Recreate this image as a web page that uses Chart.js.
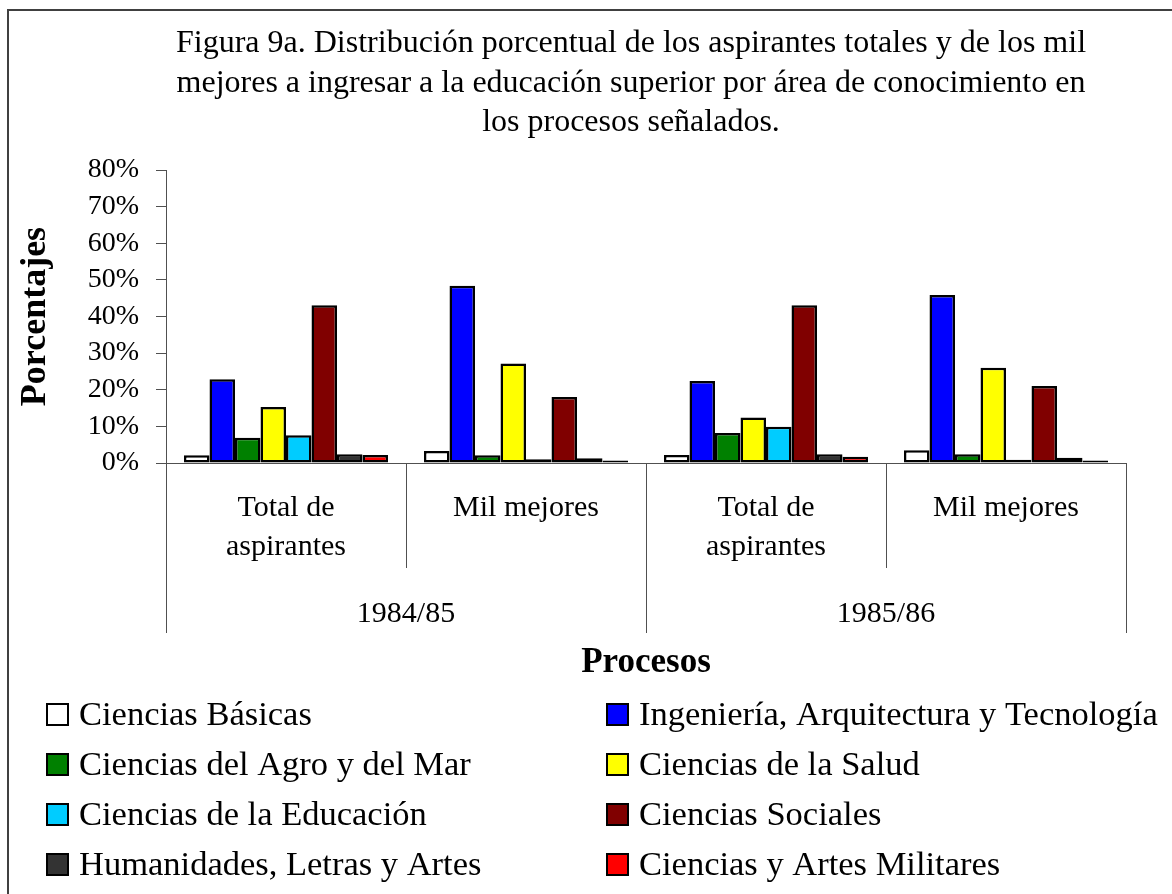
<!DOCTYPE html>
<html>
<head>
<meta charset="utf-8">
<script src="https://cdn.jsdelivr.net/npm/chart.js@4.4.1/dist/chart.umd.min.js"></script>
<style>
    html, body { margin: 0; padding: 0; background: #ffffff; }
    canvas { display: block; }
</style>
</head>
<body>
<canvas id="chart" width="1172" height="894"></canvas>
<script>
'use strict';

const titleLines = [
    'Figura 9a. Distribución porcentual de los aspirantes totales y de los mil',
    'mejores a ingresar a la educación superior por área de conocimiento en',
    'los procesos señalados.'
];
const groups = [['Total de', 'aspirantes'], ['Mil mejores'], ['Total de', 'aspirantes'], ['Mil mejores']];
const years = ['1984/85', '1985/86'];
const yTitle = 'Porcentajes';
const xTitle = 'Procesos';

const areas = [
    'Ciencias Básicas',
    'Ingeniería, Arquitectura y Tecnología',
    'Ciencias del Agro y del Mar',
    'Ciencias de la Salud',
    'Ciencias de la Educación',
    'Ciencias Sociales',
    'Humanidades, Letras y Artes',
    'Ciencias y Artes Militares'
];
const areaColors = ['#ffffff', '#0000ff', '#008000', '#ffff00', '#00ccff', '#800000', '#333333', '#ff0000'];

// porcentajes por grupo: total 84/85, mil 84/85, total 85/86, mil 85/86
const basicas = [2.1, 3.3, 2.2, 3.5];
const ingenieria = [22.9, 48.4, 22.4, 45.9];
const agro = [6.9, 2.1, 8.2, 2.4];
const salud = [15.3, 27.2, 12.4, 26.0];
const educacion = [7.6, 1.0, 9.9, 0.9];
const sociales = [43.1, 18.0, 43.1, 21.0];
const humanidades = [2.4, 1.3, 2.4, 1.4];
const militares = [2.2, 0.7, 1.7, 0.7];

const seriesValues = [basicas, ingenieria, agro, salud, educacion, sociales, humanidades, militares];

const serif = '"Liberation Serif", "Times New Roman", serif';

// marco, título, divisiones del eje x, años, leyenda
const decorPlugin = {
    id: 'decor',
    afterDraw(chart) {
        const ctx = chart.ctx;
        const xs = chart.scales.x;
        const area = chart.chartArea;
        ctx.save();

        ctx.strokeStyle = '#404040';
        ctx.lineWidth = 2;
        ctx.strokeRect(8, 10, 1300, 1000);

        ctx.fillStyle = '#000000';
        ctx.textAlign = 'center';
        ctx.textBaseline = 'alphabetic';
        ctx.font = '32px ' + serif;
        titleLines.forEach((line, i) => ctx.fillText(line, 631, 52 + i * 39.5));

        // divisiones entre categorías
        ctx.strokeStyle = '#505050';
        ctx.lineWidth = 1;
        for (let i = 0; i <= groups.length; i++) {
            const x = Math.round(xs.getPixelForValue(i - 0.5)) + 0.5;
            const bottom = (i % 2 === 0) ? area.bottom + 170 : area.bottom + 105;
            ctx.beginPath();
            ctx.moveTo(x, area.bottom);
            ctx.lineTo(x, bottom);
            ctx.stroke();
        }

        ctx.font = '30px ' + serif;
        years.forEach((yr, i) => {
            const cx = (xs.getPixelForValue(i * 2) + xs.getPixelForValue(i * 2 + 1)) / 2;
            ctx.fillText(yr, cx, area.bottom + 159);
        });

        ctx.font = 'bold 35px ' + serif;
        ctx.fillText(xTitle, (area.left + area.right) / 2, 672);

        // leyenda en dos columnas
        ctx.textAlign = 'left';
        ctx.font = '34.5px ' + serif;
        chart.data.datasets.forEach((ds, i) => {
            const col = i % 2;
            const row = Math.floor(i / 2);
            const bx = col === 0 ? 47 : 607;
            const base = 725 + row * 50;
            ctx.fillStyle = ds.backgroundColor;
            ctx.fillRect(bx, base - 21, 21, 21);
            ctx.strokeStyle = '#000000';
            ctx.lineWidth = 2;
            ctx.strokeRect(bx, base - 21, 21, 21);
            ctx.fillStyle = '#000000';
            ctx.fillText(ds.label, bx + 32, base);
        });

        ctx.restore();
    }
};

const datasets = areas.map((name, i) => ({
    label: name,
    data: seriesValues[i],
    backgroundColor: areaColors[i],
    borderColor: '#000000',
    borderWidth: 2.5,
    borderSkipped: false,
    categoryPercentage: 0.85,
    barPercentage: 1.0
}));

new Chart(document.getElementById('chart').getContext('2d'), {
    type: 'bar',
    data: {
        labels: groups,
        datasets: datasets
    },
    options: {
        responsive: false,
        animation: false,
        layout: {
            padding: { top: 170, left: 0, right: 46, bottom: 261 }
        },
        plugins: {
            legend: { display: false },
            title: { display: false },
            tooltip: { enabled: false }
        },
        scales: {
            x: {
                offset: true,
                afterFit(scale) { scale.height = 170; },
                grid: { display: false, drawTicks: false },
                border: { display: true, color: '#505050', width: 1 },
                ticks: {
                    color: '#000000',
                    padding: 25,
                    maxRotation: 0,
                    autoSkip: false,
                    font: { family: serif, size: 30, lineHeight: 1.32 }
                }
            },
            y: {
                min: 0,
                max: 80,
                afterFit(scale) { scale.width = 166; },
                border: { display: true, color: '#505050', width: 1 },
                grid: {
                    drawOnChartArea: false,
                    drawTicks: true,
                    tickLength: 10,
                    color: '#505050'
                },
                ticks: {
                    stepSize: 10,
                    color: '#000000',
                    padding: 17,
                    font: { family: serif, size: 28 },
                    callback: v => v + '%'
                },
                title: {
                    display: true,
                    text: yTitle,
                    color: '#000000',
                    padding: { top: 14, bottom: 0 },
                    font: { family: serif, size: 36, weight: 'bold' }
                }
            }
        }
    },
    plugins: [decorPlugin]
});
</script>
</body>
</html>
